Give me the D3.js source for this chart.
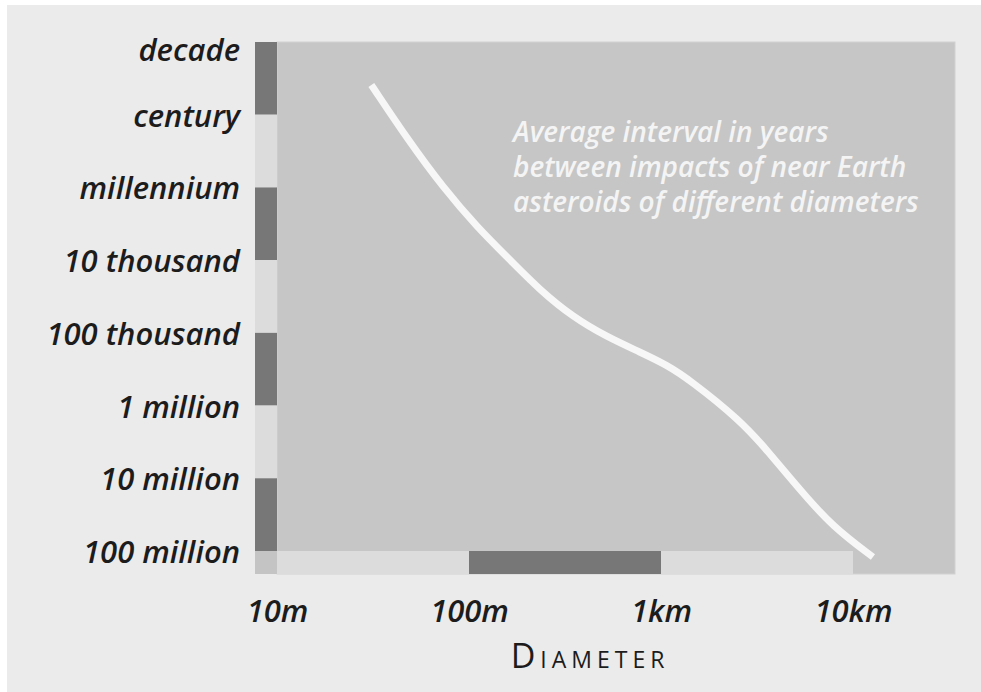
<!DOCTYPE html>
<html>
<head>
<meta charset="utf-8">
<script src="https://cdn.jsdelivr.net/npm/d3@7"></script>
<style>
  html, body { margin: 0; padding: 0; background: #ffffff; }
  svg { display: block; }
</style>
</head>
<body>
<div id="chart"></div>
<script>
// ---------- data ----------
const yTickValues = [10, 100, 1e3, 1e4, 1e5, 1e6, 1e7, 1e8];
const yTickLabels = ["decade", "century", "millennium", "10 thousand", "100 thousand", "1 million", "10 million", "100 million"];
const xTickValues = [10, 100, 1000, 10000];
const xTickLabels = ["10m", "100m", "1km", "10km"];
// curve: asteroid diameter (m) vs average interval between impacts (years)
const diameters = [31, 49, 73, 110, 164, 234, 348, 524, 778, 1074, 1416, 2576, 3565, 5297, 7870, 12700];
const intervals = [39, 238, 986, 3510, 9980, 25800, 60700, 114000, 184000, 277000, 446000, 1580000, 4090000, 14500000, 46900000, 121000000];
const noteLines = ["Average interval in years", "between impacts of near Earth", "asteroids of different diameters"];
const axisTitle = "Diameter";

// ---------- layout ----------
const W = 981, H = 692;
const plotL = 277, plotR = 955, plotT = 42, plotB = 551;
const bandW = 22, bandH = 23;
const FONT = "'Open Sans', 'Noto Sans', sans-serif";

const svg = d3.select("#chart").append("svg").attr("width", W).attr("height", H);
svg.append("rect").attr("width", W).attr("height", H).attr("fill", "#ffffff");
svg.append("rect").attr("x", 7).attr("y", 5).attr("width", W - 7).attr("height", H - 5).attr("fill", "#ebebeb");

const x = d3.scaleLog().domain([10, 10000]).range([plotL, 853]);
const y = d3.scaleLog().domain([10, 1e8]).range([plotT, plotB]);

// plot area
svg.append("rect").attr("x", plotL).attr("y", plotT).attr("width", plotR - plotL).attr("height", bandH + plotB - plotT)
  .attr("fill", "#c6c6c6").attr("stroke", "#d2d2d2").attr("stroke-width", 1);

// y band
const yPairs = d3.pairs(yTickValues);
svg.append("g").selectAll("rect").data(yPairs).join("rect")
  .attr("x", plotL - bandW).attr("width", bandW)
  .attr("y", d => y(d[0])).attr("height", d => y(d[1]) - y(d[0]))
  .attr("fill", (d, i) => i % 2 === 0 ? "#777777" : "#dcdcdc");

// x band
const xPairs = d3.pairs(xTickValues);
svg.append("g").selectAll("rect").data(xPairs).join("rect")
  .attr("y", plotB).attr("height", bandH)
  .attr("x", d => x(d[0])).attr("width", d => x(d[1]) - x(d[0]))
  .attr("fill", (d, i) => i % 2 === 1 ? "#777777" : "#dcdcdc");

// corner
svg.append("rect").attr("x", plotL - bandW).attr("y", plotB).attr("width", bandW).attr("height", bandH).attr("fill", "#c4c4c4");

// y axis
const yAxis = svg.append("g").attr("transform", `translate(${plotL - bandW},0)`)
  .call(d3.axisLeft(y).tickValues(yTickValues).tickFormat((d, i) => yTickLabels[i]).tickSize(0).tickPadding(15));
yAxis.select(".domain").remove();
yAxis.selectAll("text")
  .attr("font-family", FONT).attr("font-style", "italic").attr("font-weight", 600).attr("font-size", 31).attr("fill", "#1c1c1c")
  .attr("dy", (d, i) => i === 0 ? "0.6em" : "0.37em");

// x axis
const xAxis = svg.append("g").attr("transform", `translate(0,${plotB + bandH})`)
  .call(d3.axisBottom(x).tickValues(xTickValues).tickFormat((d, i) => xTickLabels[i]).tickSize(0).tickPadding(26));
xAxis.select(".domain").remove();
xAxis.selectAll("text")
  .attr("font-family", FONT).attr("font-style", "italic").attr("font-weight", 600).attr("font-size", 31).attr("fill", "#1c1c1c");

// axis title in small caps
const t = svg.append("text").attr("x", 590).attr("y", 668).attr("text-anchor", "middle")
  .attr("font-family", FONT).attr("fill", "#1c1c1c").attr("letter-spacing", 5);
t.append("tspan").attr("font-size", 34).text(axisTitle[0].toUpperCase());
t.append("tspan").attr("font-size", 23).text(axisTitle.slice(1).toUpperCase());

// curve
const line = d3.line().x(d => x(d[0])).y(d => y(d[1])).curve(d3.curveBasis);
svg.append("path").datum(diameters.map((d, i) => [d, intervals[i]]))
  .attr("d", line).attr("fill", "none").attr("stroke", "#f7f7f7").attr("stroke-width", 7);

// note
svg.append("g").selectAll("text").data(noteLines).join("text")
  .attr("x", 513).attr("y", (d, i) => 142 + i * 35)
  .attr("font-family", FONT).attr("font-style", "italic").attr("font-weight", 600).attr("font-size", 28).attr("fill", "#f4f4f4")
  .text(d => d);
</script>
</body>
</html>
